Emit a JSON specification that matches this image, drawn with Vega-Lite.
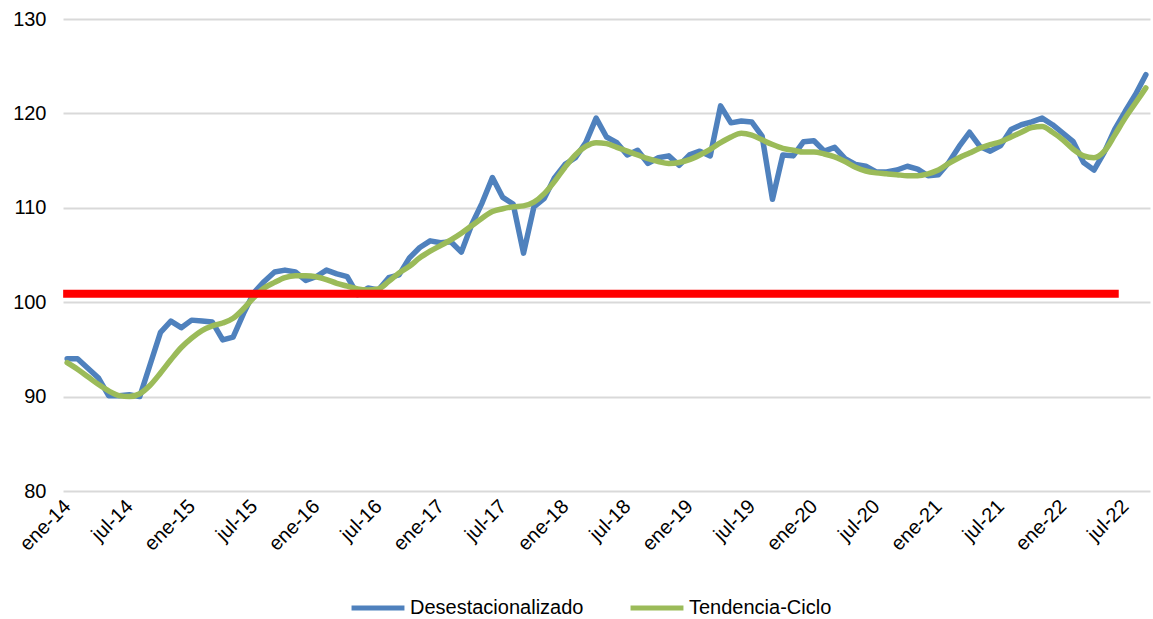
{
  "$schema": "https://vega.github.io/schema/vega-lite/v6.json",
  "autosize": "none",
  "width": 1087,
  "height": 472,
  "padding": {"left": 63, "top": 19, "right": 3, "bottom": 128},
  "background": "white",
  "config": {
    "view": {"stroke": null},
    "font": "Liberation Sans",
    "axis": {"labelFont": "Liberation Sans", "labelColor": "#000000", "labelFontSize": 20, "titleFont": "Liberation Sans"},
    "legend": {"labelFont": "Liberation Sans", "labelColor": "#000000", "labelFontSize": 20, "labelLimit": 0}
  },
  "data": {"values": [
    {"mes":"ene-14","Desestacionalizado":94.0,"Tendencia-Ciclo":93.6,"Referencia":100.9},
    {"mes":"feb-14","Desestacionalizado":94.0,"Tendencia-Ciclo":92.9,"Referencia":100.9},
    {"mes":"mar-14","Desestacionalizado":93.0,"Tendencia-Ciclo":92.1,"Referencia":100.9},
    {"mes":"abr-14","Desestacionalizado":92.0,"Tendencia-Ciclo":91.3,"Referencia":100.9},
    {"mes":"may-14","Desestacionalizado":90.1,"Tendencia-Ciclo":90.6,"Referencia":100.9},
    {"mes":"jun-14","Desestacionalizado":90.1,"Tendencia-Ciclo":90.1,"Referencia":100.9},
    {"mes":"jul-14","Desestacionalizado":90.2,"Tendencia-Ciclo":90.0,"Referencia":100.9},
    {"mes":"ago-14","Desestacionalizado":90.0,"Tendencia-Ciclo":90.3,"Referencia":100.9},
    {"mes":"sep-14","Desestacionalizado":93.4,"Tendencia-Ciclo":91.2,"Referencia":100.9},
    {"mes":"oct-14","Desestacionalizado":96.8,"Tendencia-Ciclo":92.5,"Referencia":100.9},
    {"mes":"nov-14","Desestacionalizado":98.0,"Tendencia-Ciclo":93.9,"Referencia":100.9},
    {"mes":"dic-14","Desestacionalizado":97.3,"Tendencia-Ciclo":95.2,"Referencia":100.9},
    {"mes":"ene-15","Desestacionalizado":98.1,"Tendencia-Ciclo":96.2,"Referencia":100.9},
    {"mes":"feb-15","Desestacionalizado":98.0,"Tendencia-Ciclo":97.0,"Referencia":100.9},
    {"mes":"mar-15","Desestacionalizado":97.9,"Tendencia-Ciclo":97.5,"Referencia":100.9},
    {"mes":"abr-15","Desestacionalizado":96.0,"Tendencia-Ciclo":97.8,"Referencia":100.9},
    {"mes":"may-15","Desestacionalizado":96.3,"Tendencia-Ciclo":98.3,"Referencia":100.9},
    {"mes":"jun-15","Desestacionalizado":98.8,"Tendencia-Ciclo":99.3,"Referencia":100.9},
    {"mes":"jul-15","Desestacionalizado":101.0,"Tendencia-Ciclo":100.5,"Referencia":100.9},
    {"mes":"ago-15","Desestacionalizado":102.2,"Tendencia-Ciclo":101.5,"Referencia":100.9},
    {"mes":"sep-15","Desestacionalizado":103.2,"Tendencia-Ciclo":102.1,"Referencia":100.9},
    {"mes":"oct-15","Desestacionalizado":103.4,"Tendencia-Ciclo":102.6,"Referencia":100.9},
    {"mes":"nov-15","Desestacionalizado":103.2,"Tendencia-Ciclo":102.8,"Referencia":100.9},
    {"mes":"dic-15","Desestacionalizado":102.3,"Tendencia-Ciclo":102.8,"Referencia":100.9},
    {"mes":"ene-16","Desestacionalizado":102.7,"Tendencia-Ciclo":102.7,"Referencia":100.9},
    {"mes":"feb-16","Desestacionalizado":103.4,"Tendencia-Ciclo":102.4,"Referencia":100.9},
    {"mes":"mar-16","Desestacionalizado":103.0,"Tendencia-Ciclo":102.0,"Referencia":100.9},
    {"mes":"abr-16","Desestacionalizado":102.7,"Tendencia-Ciclo":101.7,"Referencia":100.9},
    {"mes":"may-16","Desestacionalizado":100.8,"Tendencia-Ciclo":101.4,"Referencia":100.9},
    {"mes":"jun-16","Desestacionalizado":101.5,"Tendencia-Ciclo":101.3,"Referencia":100.9},
    {"mes":"jul-16","Desestacionalizado":101.3,"Tendencia-Ciclo":101.4,"Referencia":100.9},
    {"mes":"ago-16","Desestacionalizado":102.6,"Tendencia-Ciclo":102.2,"Referencia":100.9},
    {"mes":"sep-16","Desestacionalizado":102.9,"Tendencia-Ciclo":103.1,"Referencia":100.9},
    {"mes":"oct-16","Desestacionalizado":104.7,"Tendencia-Ciclo":103.8,"Referencia":100.9},
    {"mes":"nov-16","Desestacionalizado":105.8,"Tendencia-Ciclo":104.7,"Referencia":100.9},
    {"mes":"dic-16","Desestacionalizado":106.5,"Tendencia-Ciclo":105.4,"Referencia":100.9},
    {"mes":"ene-17","Desestacionalizado":106.3,"Tendencia-Ciclo":106.0,"Referencia":100.9},
    {"mes":"feb-17","Desestacionalizado":106.4,"Tendencia-Ciclo":106.6,"Referencia":100.9},
    {"mes":"mar-17","Desestacionalizado":105.3,"Tendencia-Ciclo":107.3,"Referencia":100.9},
    {"mes":"abr-17","Desestacionalizado":108.2,"Tendencia-Ciclo":108.1,"Referencia":100.9},
    {"mes":"may-17","Desestacionalizado":110.5,"Tendencia-Ciclo":108.9,"Referencia":100.9},
    {"mes":"jun-17","Desestacionalizado":113.2,"Tendencia-Ciclo":109.6,"Referencia":100.9},
    {"mes":"jul-17","Desestacionalizado":111.1,"Tendencia-Ciclo":109.9,"Referencia":100.9},
    {"mes":"ago-17","Desestacionalizado":110.4,"Tendencia-Ciclo":110.1,"Referencia":100.9},
    {"mes":"sep-17","Desestacionalizado":105.2,"Tendencia-Ciclo":110.2,"Referencia":100.9},
    {"mes":"oct-17","Desestacionalizado":110.1,"Tendencia-Ciclo":110.6,"Referencia":100.9},
    {"mes":"nov-17","Desestacionalizado":111.0,"Tendencia-Ciclo":111.5,"Referencia":100.9},
    {"mes":"dic-17","Desestacionalizado":113.2,"Tendencia-Ciclo":112.8,"Referencia":100.9},
    {"mes":"ene-18","Desestacionalizado":114.6,"Tendencia-Ciclo":114.3,"Referencia":100.9},
    {"mes":"feb-18","Desestacionalizado":115.3,"Tendencia-Ciclo":115.6,"Referencia":100.9},
    {"mes":"mar-18","Desestacionalizado":116.9,"Tendencia-Ciclo":116.5,"Referencia":100.9},
    {"mes":"abr-18","Desestacionalizado":119.5,"Tendencia-Ciclo":116.9,"Referencia":100.9},
    {"mes":"may-18","Desestacionalizado":117.5,"Tendencia-Ciclo":116.8,"Referencia":100.9},
    {"mes":"jun-18","Desestacionalizado":116.9,"Tendencia-Ciclo":116.4,"Referencia":100.9},
    {"mes":"jul-18","Desestacionalizado":115.6,"Tendencia-Ciclo":116.0,"Referencia":100.9},
    {"mes":"ago-18","Desestacionalizado":116.1,"Tendencia-Ciclo":115.6,"Referencia":100.9},
    {"mes":"sep-18","Desestacionalizado":114.7,"Tendencia-Ciclo":115.2,"Referencia":100.9},
    {"mes":"oct-18","Desestacionalizado":115.3,"Tendencia-Ciclo":114.9,"Referencia":100.9},
    {"mes":"nov-18","Desestacionalizado":115.5,"Tendencia-Ciclo":114.7,"Referencia":100.9},
    {"mes":"dic-18","Desestacionalizado":114.5,"Tendencia-Ciclo":114.8,"Referencia":100.9},
    {"mes":"ene-19","Desestacionalizado":115.6,"Tendencia-Ciclo":115.1,"Referencia":100.9},
    {"mes":"feb-19","Desestacionalizado":116.0,"Tendencia-Ciclo":115.6,"Referencia":100.9},
    {"mes":"mar-19","Desestacionalizado":115.5,"Tendencia-Ciclo":116.2,"Referencia":100.9},
    {"mes":"abr-19","Desestacionalizado":120.8,"Tendencia-Ciclo":116.9,"Referencia":100.9},
    {"mes":"may-19","Desestacionalizado":119.0,"Tendencia-Ciclo":117.5,"Referencia":100.9},
    {"mes":"jun-19","Desestacionalizado":119.2,"Tendencia-Ciclo":117.9,"Referencia":100.9},
    {"mes":"jul-19","Desestacionalizado":119.1,"Tendencia-Ciclo":117.7,"Referencia":100.9},
    {"mes":"ago-19","Desestacionalizado":117.6,"Tendencia-Ciclo":117.2,"Referencia":100.9},
    {"mes":"sep-19","Desestacionalizado":110.9,"Tendencia-Ciclo":116.7,"Referencia":100.9},
    {"mes":"oct-19","Desestacionalizado":115.6,"Tendencia-Ciclo":116.3,"Referencia":100.9},
    {"mes":"nov-19","Desestacionalizado":115.5,"Tendencia-Ciclo":116.1,"Referencia":100.9},
    {"mes":"dic-19","Desestacionalizado":117.0,"Tendencia-Ciclo":115.9,"Referencia":100.9},
    {"mes":"ene-20","Desestacionalizado":117.1,"Tendencia-Ciclo":115.9,"Referencia":100.9},
    {"mes":"feb-20","Desestacionalizado":116.0,"Tendencia-Ciclo":115.7,"Referencia":100.9},
    {"mes":"mar-20","Desestacionalizado":116.4,"Tendencia-Ciclo":115.4,"Referencia":100.9},
    {"mes":"abr-20","Desestacionalizado":115.2,"Tendencia-Ciclo":114.9,"Referencia":100.9},
    {"mes":"may-20","Desestacionalizado":114.6,"Tendencia-Ciclo":114.3,"Referencia":100.9},
    {"mes":"jun-20","Desestacionalizado":114.4,"Tendencia-Ciclo":113.9,"Referencia":100.9},
    {"mes":"jul-20","Desestacionalizado":113.8,"Tendencia-Ciclo":113.7,"Referencia":100.9},
    {"mes":"ago-20","Desestacionalizado":113.8,"Tendencia-Ciclo":113.6,"Referencia":100.9},
    {"mes":"sep-20","Desestacionalizado":114.0,"Tendencia-Ciclo":113.5,"Referencia":100.9},
    {"mes":"oct-20","Desestacionalizado":114.4,"Tendencia-Ciclo":113.4,"Referencia":100.9},
    {"mes":"nov-20","Desestacionalizado":114.1,"Tendencia-Ciclo":113.4,"Referencia":100.9},
    {"mes":"dic-20","Desestacionalizado":113.4,"Tendencia-Ciclo":113.6,"Referencia":100.9},
    {"mes":"ene-21","Desestacionalizado":113.5,"Tendencia-Ciclo":114.0,"Referencia":100.9},
    {"mes":"feb-21","Desestacionalizado":114.8,"Tendencia-Ciclo":114.7,"Referencia":100.9},
    {"mes":"mar-21","Desestacionalizado":116.5,"Tendencia-Ciclo":115.3,"Referencia":100.9},
    {"mes":"abr-21","Desestacionalizado":118.0,"Tendencia-Ciclo":115.8,"Referencia":100.9},
    {"mes":"may-21","Desestacionalizado":116.5,"Tendencia-Ciclo":116.3,"Referencia":100.9},
    {"mes":"jun-21","Desestacionalizado":116.0,"Tendencia-Ciclo":116.7,"Referencia":100.9},
    {"mes":"jul-21","Desestacionalizado":116.6,"Tendencia-Ciclo":117.0,"Referencia":100.9},
    {"mes":"ago-21","Desestacionalizado":118.3,"Tendencia-Ciclo":117.5,"Referencia":100.9},
    {"mes":"sep-21","Desestacionalizado":118.8,"Tendencia-Ciclo":118.0,"Referencia":100.9},
    {"mes":"oct-21","Desestacionalizado":119.1,"Tendencia-Ciclo":118.5,"Referencia":100.9},
    {"mes":"nov-21","Desestacionalizado":119.5,"Tendencia-Ciclo":118.6,"Referencia":100.9},
    {"mes":"dic-21","Desestacionalizado":118.8,"Tendencia-Ciclo":118.0,"Referencia":100.9},
    {"mes":"ene-22","Desestacionalizado":117.9,"Tendencia-Ciclo":117.2,"Referencia":100.9},
    {"mes":"feb-22","Desestacionalizado":117.0,"Tendencia-Ciclo":116.2,"Referencia":100.9},
    {"mes":"mar-22","Desestacionalizado":114.8,"Tendencia-Ciclo":115.5,"Referencia":100.9},
    {"mes":"abr-22","Desestacionalizado":114.0,"Tendencia-Ciclo":115.3,"Referencia":100.9},
    {"mes":"may-22","Desestacionalizado":115.9,"Tendencia-Ciclo":116.0,"Referencia":100.9},
    {"mes":"jun-22","Desestacionalizado":118.3,"Tendencia-Ciclo":117.7,"Referencia":100.9},
    {"mes":"jul-22","Desestacionalizado":120.2,"Tendencia-Ciclo":119.5,"Referencia":null},
    {"mes":"ago-22","Desestacionalizado":122.0,"Tendencia-Ciclo":121.1,"Referencia":null},
    {"mes":"sep-22","Desestacionalizado":124.1,"Tendencia-Ciclo":122.7,"Referencia":null}
  ]},
  "transform": [
    {"fold": ["Desestacionalizado", "Tendencia-Ciclo"], "as": ["serie", "valor"]}
  ],
  "encoding": {
    "x": {
      "field": "mes", "type": "ordinal", "sort": null,
      "scale": {"type": "point", "padding": 0.4},
      "axis": {
        "title": null, "domain": false, "ticks": false, "grid": false,
        "labelAngle": -45, "labelPadding": 12, "labelFontSize": 20,
        "labelAlign": "right", "labelBaseline": "middle", "labelDx": -6,
        "values": ["ene-14","jul-14","ene-15","jul-15","ene-16","jul-16","ene-17","jul-17","ene-18","jul-18","ene-19","jul-19","ene-20","jul-20","ene-21","jul-21","ene-22","jul-22"]
      }
    }
  },
  "layer": [
    {
      "transform": [{"filter": "datum.serie === 'Desestacionalizado'"}],
      "mark": {"type": "line", "strokeWidth": 5.5, "strokeJoin": "round", "strokeCap": "round"},
      "encoding": {
        "y": {
          "field": "valor", "type": "quantitative",
          "scale": {"domain": [80, 130], "nice": false, "zero": false},
          "axis": {"title": null, "values": [80, 90, 100, 110, 120, 130], "domain": false, "ticks": false, "gridColor": "#d9d9d9", "gridWidth": 2, "labelPadding": 17}
        },
        "color": {
          "field": "serie", "type": "nominal",
          "scale": {"domain": ["Desestacionalizado", "Tendencia-Ciclo"], "range": ["#4F81BD", "#9BBB59"]},
          "legend": {
            "title": null, "orient": "none", "direction": "horizontal",
            "legendX": 286, "legendY": 560,
            "symbolType": "stroke", "symbolStrokeWidth": 5, "symbolSize": 2800,
            "labelOffset": 3, "columnPadding": 36
          }
        }
      }
    },
    {
      "transform": [{"filter": "datum.serie === 'Tendencia-Ciclo'"}],
      "mark": {"type": "line", "strokeWidth": 5.5, "interpolate": "monotone", "strokeCap": "round"},
      "encoding": {
        "y": {"field": "valor", "type": "quantitative"},
        "color": {"field": "serie", "type": "nominal"}
      }
    },
    {
      "transform": [{"filter": "datum.serie === 'Desestacionalizado'"}],
      "mark": {"type": "line", "strokeWidth": 8, "color": "#FF0000", "strokeCap": "square"},
      "encoding": {
        "y": {"field": "Referencia", "type": "quantitative"}
      }
    }
  ]
}
